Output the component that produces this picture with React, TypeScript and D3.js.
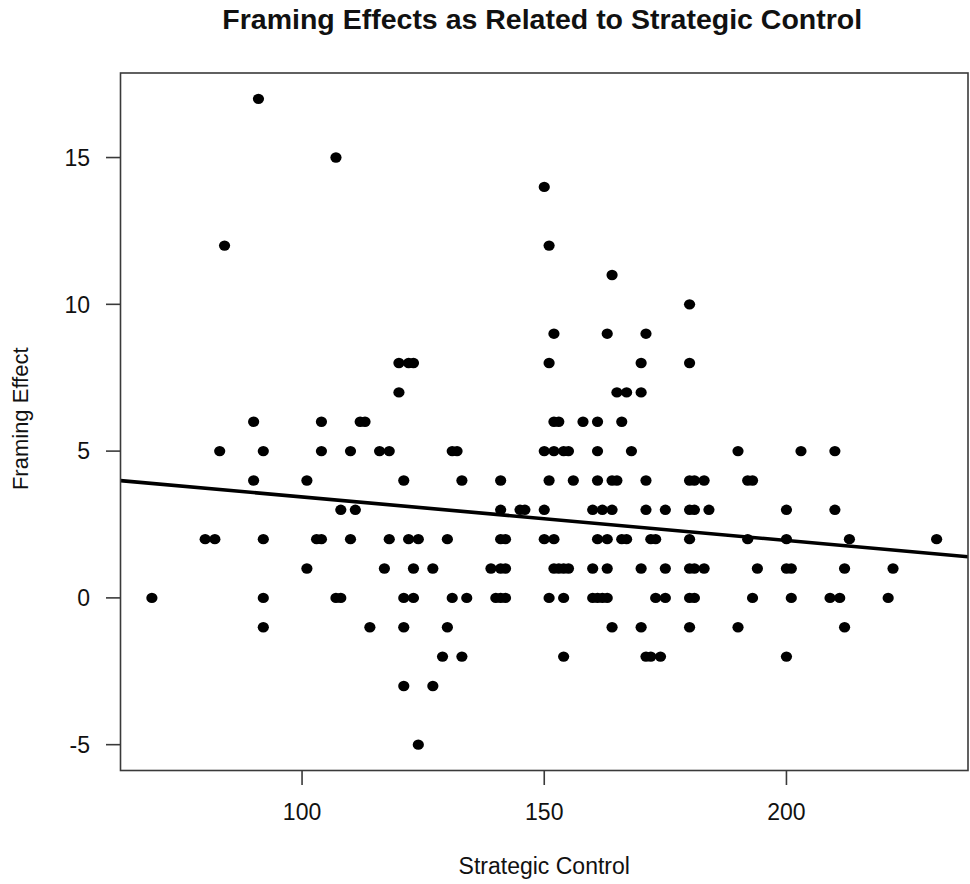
import React from "react";
import * as d3 from "d3";

// Strategic Control values of the points, grouped by their Framing Effect level
const ctrlAt17 = [91];
const ctrlAt15 = [107];
const ctrlAt14 = [150];
const ctrlAt12 = [84, 151];
const ctrlAt11 = [164];
const ctrlAt10 = [180];
const ctrlAt9 = [152, 163, 171];
const ctrlAt8 = [120, 122, 123, 151, 170, 180];
const ctrlAt7 = [120, 165, 167, 170];
const ctrlAt6 = [90, 104, 112, 113, 152, 153, 158, 161, 166];
const ctrlAt5 = [83, 92, 104, 110, 116, 118, 131, 132, 150, 152, 154, 155, 161, 168, 190, 203, 210];
const ctrlAt4 = [90, 101, 121, 133, 141, 151, 156, 161, 164, 165, 171, 180, 181, 183, 192, 193];
const ctrlAt3 = [108, 111, 141, 145, 146, 150, 160, 162, 164, 171, 175, 180, 181, 184, 200, 210];
const ctrlAt2 = [80, 82, 92, 103, 104, 110, 118, 122, 124, 130, 141, 142, 150, 152, 161, 163, 166, 167, 172, 173, 180, 192, 200, 213, 231];
const ctrlAt1 = [101, 117, 123, 127, 139, 141, 142, 152, 153, 154, 155, 160, 163, 170, 175, 180, 181, 183, 194, 200, 201, 212, 222];
const ctrlAt0 = [69, 92, 107, 108, 121, 123, 131, 134, 140, 141, 142, 151, 154, 160, 161, 162, 163, 173, 175, 180, 181, 193, 201, 209, 211, 221];
const ctrlAtM1 = [92, 114, 121, 130, 164, 170, 180, 190, 212];
const ctrlAtM2 = [129, 133, 154, 171, 172, 174, 200];
const ctrlAtM3 = [121, 127];
const ctrlAtM5 = [124];

const effectLevels = [17, 15, 14, 12, 11, 10, 9, 8, 7, 6, 5, 4, 3, 2, 1, 0, -1, -2, -3, -5];
const controlGroups = [
  ctrlAt17, ctrlAt15, ctrlAt14, ctrlAt12, ctrlAt11, ctrlAt10, ctrlAt9, ctrlAt8, ctrlAt7, ctrlAt6,
  ctrlAt5, ctrlAt4, ctrlAt3, ctrlAt2, ctrlAt1, ctrlAt0, ctrlAtM1, ctrlAtM2, ctrlAtM3, ctrlAtM5,
];

// Fitted regression line
const fitIntercept = 4.923;
const fitSlope = -0.01484;

const xTicks = [100, 150, 200];
const yTicks = [-5, 0, 5, 10, 15];

const titleText = "Framing Effects as Related to Strategic Control";
const xLabel = "Strategic Control";
const yLabel = "Framing Effect";

const W = 970;
const H = 884;
const box = { left: 120.5, right: 968, top: 73, bottom: 770.5 };
const FONT = "'Liberation Sans', Arial, Helvetica, sans-serif";

type Pt = { x: number; y: number };

export default function App() {
  const points: Pt[] = controlGroups.flatMap((g, i) => g.map((x) => ({ x, y: effectLevels[i] })));

  const xExt = d3.extent(points, (d) => d.x) as [number, number];
  const yExt = d3.extent(points, (d) => d.y) as [number, number];
  const xPad = (xExt[1] - xExt[0]) * 0.04;
  const yPad = (yExt[1] - yExt[0]) * 0.04;

  const x = d3.scaleLinear().domain([xExt[0] - xPad, xExt[1] + xPad]).range([box.left, box.right]);
  const y = d3.scaleLinear().domain([yExt[0] - yPad, yExt[1] + yPad]).range([box.bottom, box.top]);

  const [dx0, dx1] = x.domain();
  const fitLine = d3
    .line<number>()
    .x((v) => x(v))
    .y((v) => y(fitIntercept + fitSlope * v))([dx0, dx1]);

  const cx = (box.left + box.right) / 2;
  const cy = (box.top + box.bottom) / 2;
  const axisColor = "#3a3a3a";

  return (
    <svg
      width={W}
      height={H}
      viewBox={`0 0 ${W} ${H}`}
      style={{ position: "absolute", left: 0, top: 0, background: "#fff" }}
      fontFamily={FONT}
    >
      <defs>
        <clipPath id="plotClip">
          <rect x={box.left} y={box.top} width={box.right - box.left} height={box.bottom - box.top} />
        </clipPath>
      </defs>
      <rect x={0} y={0} width={W} height={H} fill="#fff" />

      <text x={cx - 2} y={28.5} textAnchor="middle" fontSize={28.5} fontWeight="bold" fill="#111">
        {titleText}
      </text>

      {/* points */}
      <g>
        {points.map((d, i) => (
          <ellipse key={i} cx={x(d.x)} cy={y(d.y)} rx={5.6} ry={5.2} fill="#000" />
        ))}
      </g>

      {/* regression line */}
      <path d={fitLine ?? ""} stroke="#000" strokeWidth={3.6} fill="none" clipPath="url(#plotClip)" />

      {/* box */}
      <rect
        x={box.left}
        y={box.top}
        width={box.right - box.left}
        height={box.bottom - box.top}
        fill="none"
        stroke={axisColor}
        strokeWidth={1.6}
      />

      {/* x axis */}
      {xTicks.map((t) => (
        <g key={t}>
          <line x1={x(t)} x2={x(t)} y1={box.bottom} y2={box.bottom + 14.5} stroke={axisColor} strokeWidth={1.6} />
          <text x={x(t)} y={820} textAnchor="middle" fontSize={23} fill="#111">
            {t}
          </text>
        </g>
      ))}
      <text x={cx} y={874} textAnchor="middle" fontSize={23} fill="#111">
        {xLabel}
      </text>

      {/* y axis */}
      {yTicks.map((t) => (
        <g key={t}>
          <line x1={box.left} x2={box.left - 14.5} y1={y(t)} y2={y(t)} stroke={axisColor} strokeWidth={1.6} />
          <text x={90} y={y(t) + 8.2} textAnchor="end" fontSize={23} fill="#111">
            {t}
          </text>
        </g>
      ))}
      <text
        transform={`translate(28,${cy - 3}) rotate(-90)`}
        textAnchor="middle"
        fontSize={22}
        fill="#111"
      >
        {yLabel}
      </text>
    </svg>
  );
}
